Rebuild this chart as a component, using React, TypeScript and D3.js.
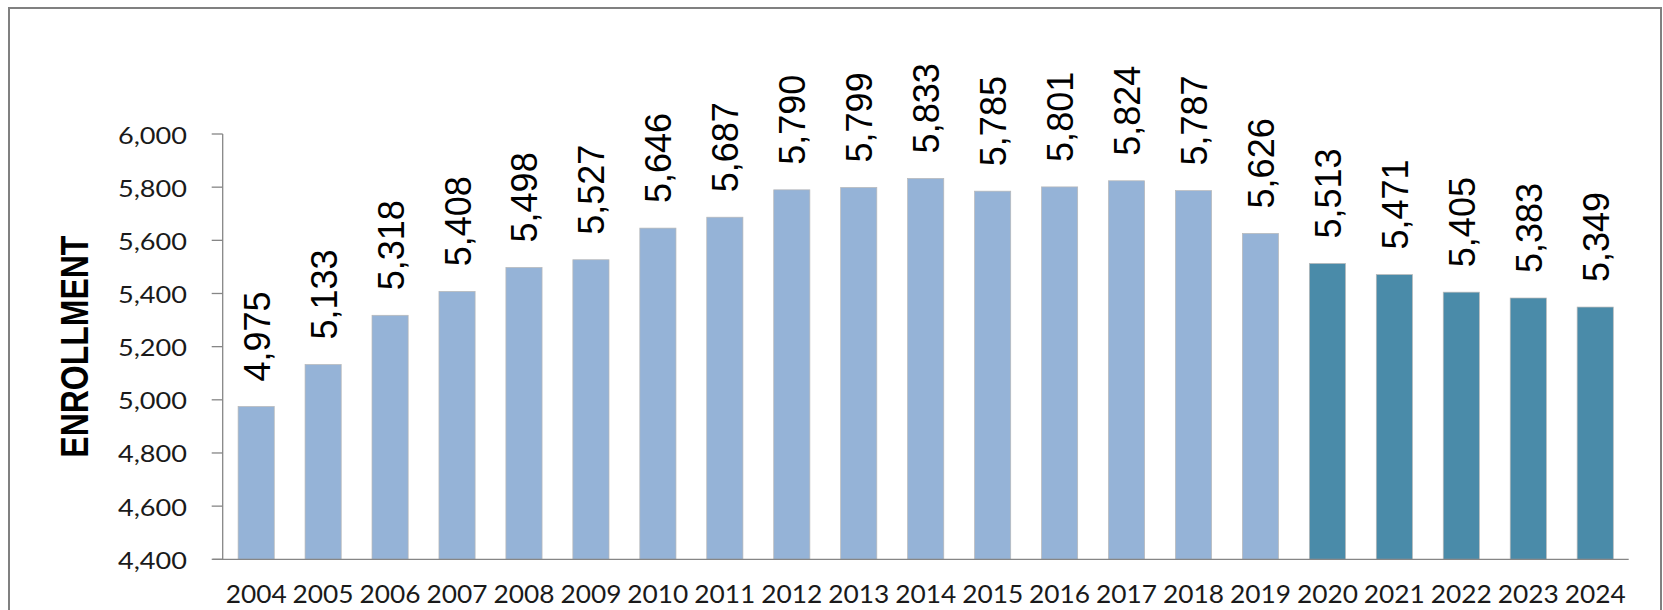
import React from 'react';
import * as d3 from 'd3';

const years = ['2004','2005','2006','2007','2008','2009','2010','2011','2012','2013','2014','2015','2016','2017','2018','2019','2020','2021','2022','2023','2024'];
const enrollment = [4975,5133,5318,5408,5498,5527,5646,5687,5790,5799,5833,5785,5801,5824,5787,5626,5513,5471,5405,5383,5349];
const projectedYears = ['2020','2021','2022','2023','2024'];
const yTicks = [4400,4600,4800,5000,5200,5400,5600,5800,6000];
const yTitle = 'ENROLLMENT';

const W = 1663, H = 610;
const left = 222.7, right = 1628.7, top = 134, bottom = 559.3;

export default function App() {
  const x = d3.scaleBand<string>().domain(years).range([left, right]).paddingInner(0.46).paddingOuter(0.23);
  const y = d3.scaleLinear().domain([4400, 6000]).range([bottom, top]);
  const fmt = d3.format(',');
  const axisColor = '#868686';
  const axisFont = 'Lato, "Open Sans", sans-serif';
  return (
    <svg width={W} height={H} style={{ position: 'absolute', left: 0, top: 0 }}>
      <rect x={0} y={0} width={W} height={H} fill="#fff" />
      <rect x={9} y={8} width={1652} height={640} fill="none" stroke="#808080" strokeWidth={2} />
      {years.map((yr, i) => (
        <rect key={yr} x={x(yr)} y={y(enrollment[i])} width={x.bandwidth()} height={bottom - y(enrollment[i])}
          fill={projectedYears.includes(yr) ? '#4A8BA9' : '#95B3D7'} stroke="#b8b8b8" strokeWidth={0.7} />
      ))}
      <line x1={left} x2={left} y1={top} y2={bottom} stroke={axisColor} strokeWidth={1.3} />
      <line x1={left - 10} x2={right} y1={bottom} y2={bottom} stroke={axisColor} strokeWidth={1.3} />
      {yTicks.map(t => (
        <g key={t}>
          <line x1={left - 11} x2={left} y1={y(t)} y2={y(t)} stroke={axisColor} strokeWidth={1.3} />
          <text x={187} y={y(t) + 9.5} textAnchor="end" fontFamily={axisFont} fontSize={22.5} fill="#1a1a1a"
            textLength={69} lengthAdjust="spacingAndGlyphs">{fmt(t)}</text>
        </g>
      ))}
      {years.map(yr => (
        <text key={yr} x={(x(yr) as number) + x.bandwidth() / 2} y={603.3} textAnchor="middle" fontFamily={axisFont}
          fontSize={25} fill="#1a1a1a" textLength={61} lengthAdjust="spacingAndGlyphs">{yr}</text>
      ))}
      {years.map((yr, i) => {
        const cx = (x(yr) as number) + x.bandwidth() / 2 + 13.5;
        const cy = y(enrollment[i]) - 25;
        return (
          <text key={yr} transform={`translate(${cx},${cy}) rotate(-90)`} fontFamily='"Liberation Sans", Arial, sans-serif'
            fontSize={36} fill="#000">{fmt(enrollment[i])}</text>
        );
      })}
      <text transform={`translate(88.3,${(top + bottom) / 2}) rotate(-90)`} textAnchor="middle"
        fontFamily='"Liberation Sans", Arial, sans-serif' fontWeight="bold" fontSize={38}
        textLength={222} lengthAdjust="spacingAndGlyphs" fill="#000">{yTitle}</text>
    </svg>
  );
}
